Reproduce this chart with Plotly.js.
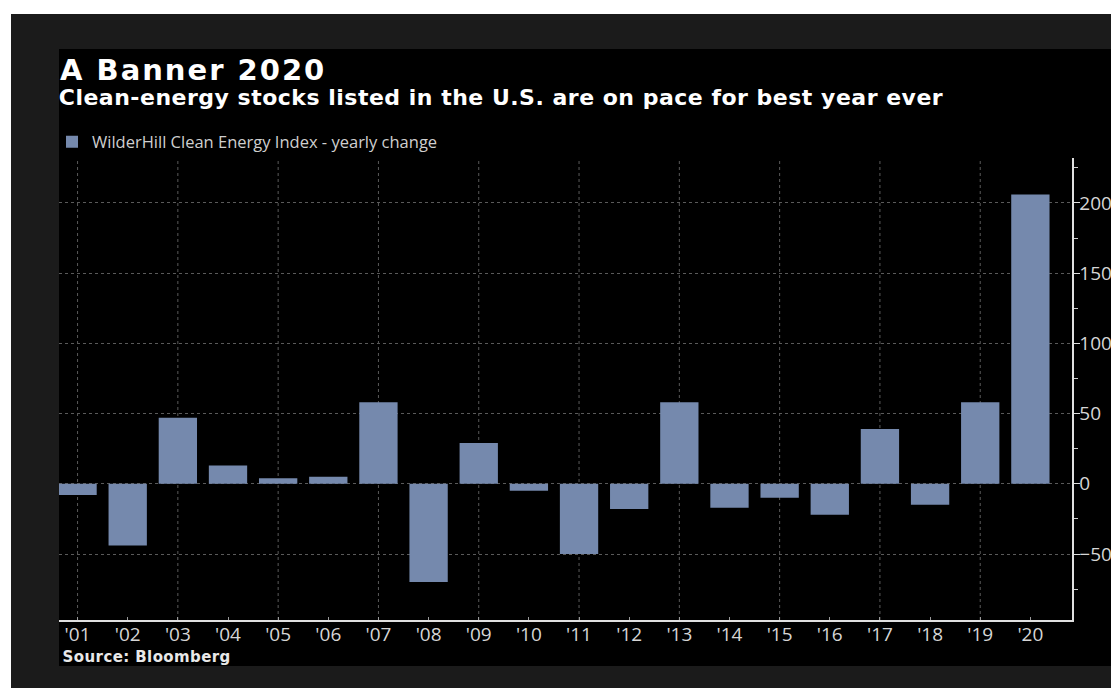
<!DOCTYPE html>
<html>
<head>
<meta charset="utf-8">
<script src="https://cdn.plot.ly/plotly-3.0.1.min.js"></script>
<style>
  html, body { margin: 0; padding: 0; background: #ffffff; width: 1111px; height: 688px; overflow: hidden; }
  #frame { position: absolute; left: 11px; top: 14px; width: 1100px; height: 674px; background: #1b1b1b; }
  #panel { position: absolute; left: 59px; top: 49px; width: 1052px; height: 617px; background: #000000; }
  #chart { position: absolute; left: 0; top: 0; width: 1111px; height: 688px; }
  #chart .annotation[data-index="0"] text { letter-spacing: 2px; }
  #chart .annotation[data-index="1"] text { letter-spacing: 0.5px; }
  #chart .annotation[data-index="2"] text { letter-spacing: 0.4px; }
</style>
</head>
<body>
<div id="frame"></div>
<div id="panel"></div>
<div id="chart"></div>
<script>
// ---- data ----
const years = ["'01","'02","'03","'04","'05","'06","'07","'08","'09","'10",
               "'11","'12","'13","'14","'15","'16","'17","'18","'19","'20"];
const yearlyChange = [-8, -44, 47, 13, 4, 5, 58, -70, 29, -5,
                      -50, -18, 58, -17, -10, -22, 39, -15, 58, 206];
const seriesName = "WilderHill Clean Energy Index - yearly change";
const titleText = "A Banner 2020";
const subtitleText = "Clean-energy stocks listed in the U.S. are on pace for best year ever";
const sourceText = "Source: Bloomberg";
const yTicks = [-50, 0, 50, 100, 150, 200];

// ---- layout geometry ----
const W = 1111, H = 688;
const M = { l: 59, r: 39, t: 158, b: 68 };
const PW = W - M.l - M.r, PH = H - M.t - M.b;
const px = x => (x - M.l) / PW;
const py = y => (H - M.b - y) / PH;

const idx = years.map((_, i) => i);
const gridIdx = idx.filter(i => i % 2 === 0);   // vertical gridlines at odd years ('01, '03, ...)
const xRange = [-0.37, 19.83];

const barColor = "#7589ad";
const gridColor = "#5a5a5a";
const tickFont = { family: "Open Sans, DejaVu Sans, sans-serif", size: 19, color: "#d6d6d6" };

const trace = {
  type: "bar",
  x: idx,
  y: yearlyChange,
  name: seriesName,
  marker: { color: barColor, line: { width: 0 } },
  showlegend: true,
  hovertemplate: "%{customdata}: %{y}%<extra></extra>",
  customdata: years
};

const vGrid = gridIdx.map(i => ({
  type: "line", xref: "x", yref: "paper", x0: i, x1: i, y0: 0, y1: 1,
  layer: "below", line: { color: gridColor, width: 1, dash: "dot" }
}));

const layout = {
  width: W, height: H,
  margin: M,
  paper_bgcolor: "rgba(0,0,0,0)",
  plot_bgcolor: "rgba(0,0,0,0)",
  bargap: 0.236,
  showlegend: true,
  legend: {
    x: px(52), y: py(142), xanchor: "left", yanchor: "middle",
    orientation: "h",
    bgcolor: "rgba(0,0,0,0)",
    font: { family: "Open Sans, DejaVu Sans, sans-serif", size: 16.5, color: "#cfcfcf" },
    itemwidth: 30
  },
  shapes: vGrid,
  xaxis: {
    range: xRange,
    tickmode: "array",
    tickvals: idx,
    ticktext: years,
    showgrid: false,
    zeroline: false,
    showline: true,
    linecolor: "#e0e0e0",
    linewidth: 1.5,
    ticks: "inside",
    ticklen: 3,
    tickcolor: "#9a9a9a",
    tickfont: tickFont,
    ticklabelstandoff: -3,
    fixedrange: true
  },
  yaxis: {
    side: "right",
    range: [-97, 232],
    tickmode: "array",
    tickvals: yTicks,
    showgrid: true,
    gridcolor: gridColor,
    gridwidth: 1,
    griddash: "dot",
    zeroline: false,
    showline: true,
    linecolor: "#e0e0e0",
    linewidth: 1.5,
    ticks: "outside",
    ticklen: 6,
    tickcolor: "#e0e0e0",
    tickfont: tickFont,
    ticklabelstandoff: -4,
    minor: { tickmode: "linear", tick0: -75, dtick: 25, ticks: "outside", ticklen: 4, tickcolor: "#cfcfcf", showgrid: false },
    fixedrange: true
  },
  annotations: [
    { text: "<b>" + titleText + "</b>", xref: "paper", yref: "paper", x: px(71), y: py(70), xanchor: "left", yanchor: "middle",
      showarrow: false, font: { family: "DejaVu Sans, Verdana, sans-serif", size: 29, color: "#ffffff" } },
    { text: "<b>" + subtitleText + "</b>", xref: "paper", yref: "paper", x: px(74), y: py(98), xanchor: "left", yanchor: "middle",
      showarrow: false, font: { family: "DejaVu Sans, Verdana, sans-serif", size: 22, color: "#ffffff" } },
    { text: "<b>" + sourceText + "</b>", xref: "paper", yref: "paper", x: px(64), y: py(657), xanchor: "left", yanchor: "middle",
      showarrow: false, font: { family: "DejaVu Sans, Verdana, sans-serif", size: 15, color: "#e8e8e8" } }
  ]
};

Plotly.newPlot("chart", [trace], layout, { displayModeBar: false, staticPlot: true });
</script>
</body>
</html>
